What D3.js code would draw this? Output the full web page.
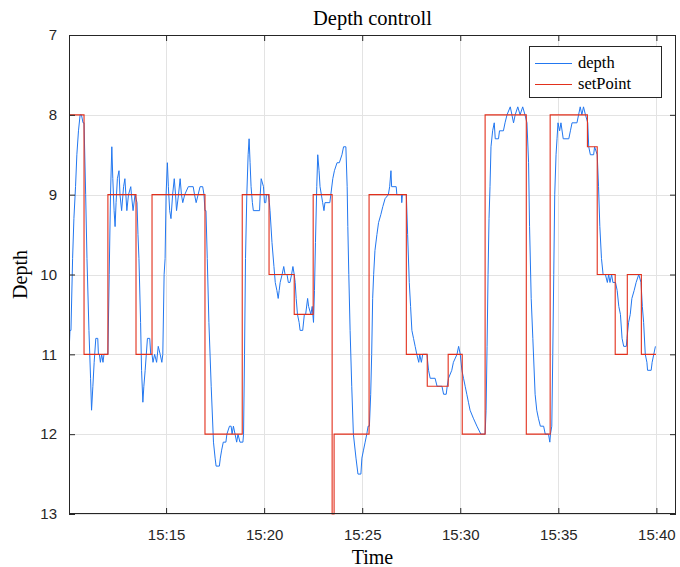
<!DOCTYPE html>
<html>
<head>
<meta charset="utf-8">
<script src="https://cdn.jsdelivr.net/npm/d3@7"></script>
<style>
html,body{margin:0;padding:0;background:#fff;}
svg{display:block;}
</style>
</head>
<body>
<svg id="chart" width="680" height="567"></svg>
<script>
// ---------------- data ----------------
// time is given as seconds after 15:10:00
const chartTitle = "Depth controll";
const xLabel = "Time";
const yLabel = "Depth";
const seriesNames = ["depth", "setPoint"];
const xTickLabels = ["15:15", "15:20", "15:25", "15:30", "15:35", "15:40"];
const yTickValues = [7, 8, 9, 10, 11, 12, 13];

const setPointSec = [3, 49, 122, 208, 257, 419, 533, 615, 692, 750, 808, 814, 921, 1035, 1099, 1163, 1206, 1276, 1402, 1475, 1589, 1619, 1674, 1711, 1754, 1799];
const setPointVal = [8, 11, 9, 11, 9, 12, 9, 10, 10.5, 9, 13, 12, 9, 11, 11.4, 11, 12, 8, 12, 8, 8.4, 10, 11, 10, 11, 11];

const depthSec = [3, 6, 9, 14, 18, 23, 27, 32, 37, 41, 46, 49, 54, 58, 64, 69, 72, 76, 80, 85, 91, 93, 96, 99, 103, 107, 110, 116, 122,
  126, 130, 134, 137, 141, 144, 147, 151, 156, 159, 164, 170, 174, 180, 185, 192, 194, 199, 205, 211,
  214, 217, 222, 225, 229, 232, 236, 243, 250, 253, 257, 260, 265, 271, 276, 282, 287, 290,
  294, 297, 300, 304, 307, 311, 315, 320, 325, 329, 332, 338, 343, 347, 351, 357, 368, 383, 387, 392, 398, 404, 412, 416, 419, 422,
  426, 431, 438, 445, 450, 453, 463, 466, 470, 475, 483, 486, 494, 499, 502, 506, 511, 516, 520, 526, 535, 537,
  540, 543, 547, 551, 554, 557, 560, 564, 567, 586, 588, 591, 598, 601, 605, 607, 613, 616, 618,
  624, 630, 634, 639, 643, 646, 649, 655, 660, 664, 670, 674, 679, 684, 688, 692, 695, 698, 702, 707, 710, 718, 723, 727, 733, 736, 743, 747, 751,
  754, 757, 761, 764, 768, 771, 779, 783, 786, 801, 804, 810, 815, 823, 830, 838, 843, 850,
  854, 856, 859, 863, 868, 873, 881, 887, 896, 899, 904, 909, 914, 918, 922,
  926, 929, 932, 935, 939, 945, 950, 957, 963, 970, 980, 984, 988, 990, 1004, 1006, 1020, 1021, 1023, 1035,
  1039, 1044, 1048, 1052, 1057, 1062, 1067, 1073, 1076, 1081, 1085, 1098, 1103, 1108, 1123, 1129, 1144, 1149, 1157, 1160, 1164, 1174, 1179, 1190, 1195, 1200,
  1205, 1210, 1215, 1220, 1225, 1230, 1240, 1251, 1263, 1271, 1276,
  1279, 1282, 1285, 1288, 1291, 1294, 1299, 1304, 1307, 1317, 1320, 1332, 1337, 1343, 1353, 1358, 1363, 1368, 1376, 1383, 1391, 1398, 1404,
  1409, 1412, 1417, 1422, 1429, 1434, 1439, 1445, 1455, 1460, 1470, 1474, 1476, 1480,
  1483, 1486, 1489, 1493, 1496, 1499, 1504, 1508, 1515, 1532, 1537, 1542, 1557, 1562, 1567, 1572, 1577, 1583, 1590, 1593, 1598, 1608, 1611, 1619,
  1623, 1627, 1632, 1637, 1644, 1650, 1654, 1658, 1663, 1667, 1675, 1680, 1685, 1690, 1695, 1700, 1708, 1710, 1715, 1720, 1725, 1732, 1738, 1746, 1753,
  1757, 1761, 1766, 1771, 1773, 1784, 1787, 1792, 1797];
const depthVal = [11.0, 10.7, 10.7, 9.8, 9.3, 8.9, 8.5, 8.2, 8.0, 8.0, 8.1, 8.1, 9.0, 9.8, 10.7, 11.3, 11.7, 11.4, 11.1, 10.8, 10.8, 11.0, 11.0, 11.1, 11.0, 11.1, 11.0, 11.0, 11.0,
  10.0, 9.0, 8.4, 8.8, 9.2, 9.4, 9.1, 8.8, 8.7, 9.0, 9.2, 8.9, 8.8, 9.2, 9.0, 8.9, 9.0, 9.2, 9.0, 9.1,
  9.5, 9.8, 10.6, 11.2, 11.6, 11.4, 11.2, 10.8, 10.8, 11.0, 11.0, 11.1, 11.0, 11.1, 10.9, 11.0, 11.1, 11.0,
  10.0, 9.8, 9.0, 8.6, 8.9, 9.2, 9.3, 9.0, 8.8, 9.0, 9.2, 9.0, 8.8, 9.0, 9.1, 9.0, 8.9, 8.9, 9.0, 9.1, 9.0, 8.9, 8.9, 9.0, 9.2, 9.2,
  9.8, 10.6, 11.4, 12.1, 12.3, 12.4, 12.4, 12.3, 12.2, 12.1, 12.1, 12.0, 11.9, 11.9, 12.0, 11.9, 12.0, 12.1, 12.0, 12.1, 12.1, 12.0,
  11.0, 9.8, 9.0, 8.5, 8.3, 8.6, 8.9, 9.1, 9.2, 9.2, 9.0, 8.8, 8.9, 9.1, 9.1, 9.0, 9.0, 9.1, 9.2,
  9.6, 9.9, 10.1, 10.2, 10.3, 10.2, 10.1, 10.0, 9.9, 10.0, 10.0, 10.1, 10.1, 10.0, 9.9, 10.0, 10.1, 10.3, 10.5, 10.6, 10.7, 10.7, 10.5, 10.5, 10.3, 10.4, 10.5, 10.4, 10.6,
  10.2, 9.6, 8.9, 8.5, 8.7, 8.9, 9.1, 9.2, 9.1, 9.1, 9.0, 8.8, 8.7, 8.6, 8.6, 8.5, 8.4, 8.4,
  8.9, 9.4, 10.0, 10.7, 11.4, 12.0, 12.3, 12.5, 12.5, 12.3, 12.2, 12.1, 12.0, 11.9, 11.9,
  11.5, 11.0, 10.3, 10.0, 9.7, 9.5, 9.35, 9.25, 9.15, 9.05, 9.0, 8.9, 8.7, 8.9, 8.9, 9.0, 9.0, 9.1, 9.0, 9.0,
  9.5, 10.1, 10.4, 10.7, 10.8, 10.9, 11.0, 11.1, 11.0, 11.1, 11.0, 11.0, 11.2, 11.3, 11.3, 11.4, 11.4, 11.5, 11.5, 11.4, 11.3, 11.2, 11.1, 11.0, 10.9, 11.0,
  11.2, 11.3, 11.4, 11.5, 11.6, 11.7, 11.8, 11.9, 12.0, 12.0, 12.0,
  11.7, 10.9, 10.0, 9.3, 8.9, 8.4, 8.2, 8.1, 8.3, 8.3, 8.2, 8.2, 8.1, 8.0, 7.9, 8.0, 8.1, 8.0, 7.9, 8.0, 7.9, 8.0, 8.1,
  8.6, 9.4, 10.3, 10.8, 11.5, 11.7, 11.8, 11.9, 11.9, 12.0, 12.0, 12.1, 12.0, 11.9,
  11.0, 10.0, 9.0, 8.5, 8.3, 8.1, 8.2, 8.1, 8.3, 8.3, 8.2, 8.1, 8.1, 8.0, 7.9, 8.0, 7.9, 8.0, 8.1, 8.4, 8.5, 8.5, 8.4, 8.5,
  8.9, 9.4, 9.8, 10.0, 10.0, 10.1, 10.0, 10.1, 10.0, 10.1, 10.1, 10.2, 10.4, 10.5, 10.8, 10.9, 10.9, 10.8, 10.6, 10.5, 10.3, 10.2, 10.1, 10.0, 10.1,
  10.4, 10.6, 11.0, 11.1, 11.2, 11.2, 11.1, 11.0, 10.9];

// ---------------- chart ----------------
const base = new Date(2000, 0, 1, 15, 10, 0).getTime();
const toDate = s => new Date(base + s * 1000);
const parseHM = d3.timeParse("%H:%M");
const tickDate = lbl => { const d = parseHM(lbl); return new Date(2000, 0, 1, d.getHours(), d.getMinutes(), 0); };

const L = 69, R = 676, T = 35, B = 514;
const x = d3.scaleTime().domain([toDate(3), toDate(1860)]).range([L, R]);
const y = d3.scaleLinear().domain([7, 13]).range([T, B]);

const svg = d3.select("#chart");
const axisColor = "#262626";
const gridColor = "#e3e3e3";
const blue = "#2277f0";
const red = "#e2301c";
const serif = "'Liberation Serif', 'Times New Roman', serif";
const sans = "'Liberation Sans', Arial, sans-serif";

svg.append("rect").attr("x", L).attr("y", T).attr("width", R - L).attr("height", B - T).attr("fill", "#fff");

const xTicks = xTickLabels.map(tickDate);

// grid
const grid = svg.append("g");
grid.selectAll("line.gx").data(xTicks).join("line")
  .attr("x1", d => Math.round(x(d)) + 0.5).attr("x2", d => Math.round(x(d)) + 0.5)
  .attr("y1", T).attr("y2", B).attr("stroke", gridColor).attr("stroke-width", 1);
grid.selectAll("line.gy").data(yTickValues).join("line")
  .attr("y1", d => Math.round(y(d)) + 0.5).attr("y2", d => Math.round(y(d)) + 0.5)
  .attr("x1", L).attr("x2", R).attr("stroke", gridColor).attr("stroke-width", 1);

// clip
svg.append("clipPath").attr("id", "clip").append("rect")
  .attr("x", L).attr("y", T - 1).attr("width", R - L).attr("height", B - T + 2);

const plot = svg.append("g").attr("clip-path", "url(#clip)");

const depthData = depthSec.map((s, i) => ({ t: toDate(s), v: depthVal[i] }));
const spData = setPointSec.map((s, i) => ({ t: toDate(s), v: setPointVal[i] }));

plot.append("path").datum(depthData)
  .attr("fill", "none").attr("stroke", blue).attr("stroke-width", 1)
  .attr("d", d3.line().x(d => x(d.t)).y(d => y(d.v)));

plot.append("path").datum(spData)
  .attr("fill", "none").attr("stroke", red).attr("stroke-width", 1.1)
  .attr("d", d3.line().x(d => x(d.t)).y(d => y(d.v)).curve(d3.curveStepAfter));

// axes (box with inward ticks)
const tl = 6;
const xAxisB = d3.axisBottom(x).tickValues(xTicks).tickSize(-tl).tickFormat(d3.timeFormat("%H:%M")).tickPadding(15);
const xAxisT = d3.axisTop(x).tickValues(xTicks).tickSize(-tl).tickFormat("");
const yAxisL = d3.axisLeft(y).tickValues(yTickValues).tickSize(-tl).tickFormat(d3.format("d")).tickPadding(12);
const yAxisR = d3.axisRight(y).tickValues(yTickValues).tickSize(-tl).tickFormat("");

function styleAxis(g) {
  g.select(".domain").remove();
  g.selectAll(".tick line").attr("stroke", axisColor).attr("stroke-width", 1);
  g.selectAll(".tick text").attr("fill", axisColor).style("font-family", sans).style("font-size", "15px");
}
svg.append("g").attr("transform", `translate(0,${B})`).call(xAxisB).call(styleAxis);
svg.append("g").attr("transform", `translate(0,${T})`).call(xAxisT).call(styleAxis);
svg.append("g").attr("transform", `translate(${L},0)`).call(yAxisL).call(styleAxis);
svg.append("g").attr("transform", `translate(${R},0)`).call(yAxisR).call(styleAxis);

svg.append("rect").attr("x", L + 0.5).attr("y", T + 0.5).attr("width", R - L - 1).attr("height", B - T - 1)
  .attr("fill", "none").attr("stroke", axisColor).attr("stroke-width", 1);

// titles
svg.append("text").attr("x", (L + R) / 2).attr("y", 25).attr("text-anchor", "middle")
  .style("font-family", serif).style("font-size", "20.5px").attr("fill", "#000").text(chartTitle);
svg.append("text").attr("x", (L + R) / 2).attr("y", 564).attr("text-anchor", "middle")
  .style("font-family", serif).style("font-size", "20px").attr("fill", "#000").text(xLabel);
svg.append("text").attr("transform", `translate(27,${(T + B) / 2}) rotate(-90)`).attr("text-anchor", "middle")
  .style("font-family", serif).style("font-size", "20px").attr("fill", "#000").text(yLabel);

// legend
const lg = svg.append("g");
lg.append("rect").attr("x", 529.5).attr("y", 46.5).attr("width", 132).attr("height", 51)
  .attr("fill", "#fff").attr("stroke", axisColor).attr("stroke-width", 1);
const legendColors = [blue, red];
seriesNames.forEach((n, i) => {
  const yy = 63 + i * 21;
  lg.append("line").attr("x1", 535).attr("x2", 572).attr("y1", yy + 0.5).attr("y2", yy + 0.5)
    .attr("stroke", legendColors[i]).attr("stroke-width", 1);
  lg.append("text").attr("x", 578).attr("y", yy + 5)
    .style("font-family", serif).style("font-size", "16.5px").attr("fill", "#000").text(n);
});
</script>
</body>
</html>
